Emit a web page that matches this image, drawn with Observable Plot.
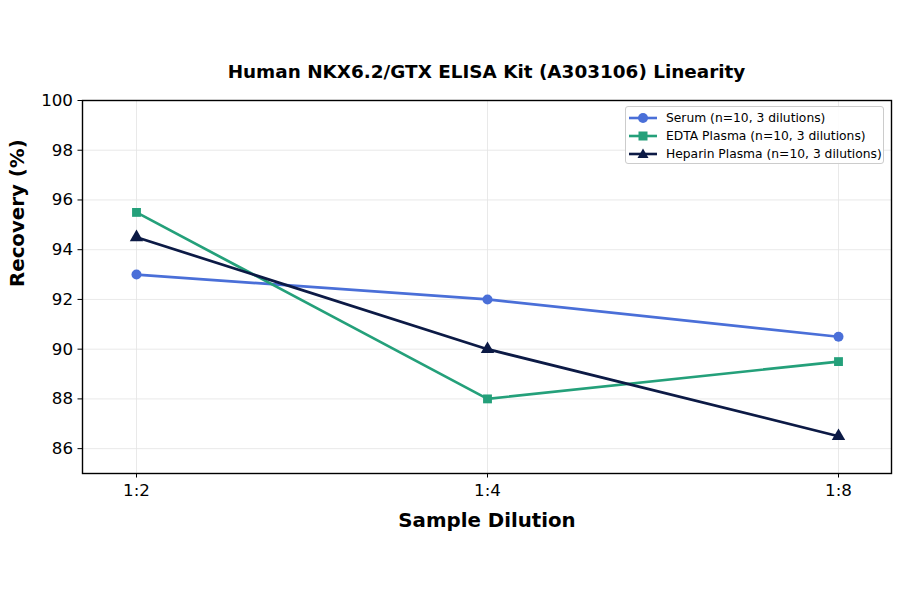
<!DOCTYPE html>
<html><head><meta charset="utf-8">
<script src="https://cdn.jsdelivr.net/npm/d3@7"></script>
<script src="https://cdn.jsdelivr.net/npm/@observablehq/plot@0.6"></script>
<style>
body{margin:0;background:#fff;font-family:"DejaVu Sans",sans-serif;}
#wrap{position:relative;width:900px;height:594px;}
#title{position:absolute;top:61px;left:82px;width:809px;text-align:center;font-weight:bold;font-size:18.4px;color:#000;}
#legend{position:absolute;left:625px;top:106px;width:259px;height:58px;background:rgba(255,255,255,0.9);border:1px solid #ccc;border-radius:3px;box-sizing:border-box;font-size:12.3px;}
.row{position:absolute;left:2px;height:18px;display:flex;align-items:center;white-space:nowrap;}
.row svg{margin-right:8px;}
</style></head>
<body>
<div id="wrap">
<div id="title">Human NKX6.2/GTX ELISA Kit (A303106) Linearity</div>
<div id="chart"></div>
<div id="legend"></div>
</div>
<script>
const dilutions = ["1:2", "1:4", "1:8"];
const seriesNames = ["Serum (n=10, 3 dilutions)", "EDTA Plasma (n=10, 3 dilutions)", "Heparin Plasma (n=10, 3 dilutions)"];
const serum = [93, 92, 90.5];
const edta = [95.5, 88, 89.5];
const heparin = [94.5, 90, 86.5];
const colors = ["#4a6fd8", "#24a07a", "#0c1a45"];
const symbols = ["circle", "square", "triangle"];
const yTicks = [86, 88, 90, 92, 94, 96, 98, 100];

const allValues = [serum, edta, heparin];
const data = [];
allValues.forEach((vals, i) => vals.forEach((v, j) => data.push({series: seriesNames[i], dilution: dilutions[j], value: v})));

const font = "DejaVu Sans, sans-serif";
const chart = Plot.plot({
  width: 900, height: 594,
  marginLeft: 82, marginRight: 9, marginTop: 100, marginBottom: 121,
  style: {fontFamily: font, background: "white", color: "black"},
  x: {type: "point", domain: dilutions, padding: 0.15},
  y: {domain: [85, 100]},
  color: {domain: seriesNames, range: colors},
  symbol: {domain: seriesNames, range: symbols},
  marks: [
    Plot.gridY(yTicks, {stroke: "#e3e3e3", strokeOpacity: 1, strokeWidth: 0.8}),
    Plot.gridX(dilutions, {stroke: "#e3e3e3", strokeOpacity: 1, strokeWidth: 0.8}),
    Plot.axisY(yTicks, {tickSize: 4.5, tickPadding: 5, fontSize: 16.7, label: null, stroke: "black"}),
    Plot.axisX(dilutions, {tickSize: 4.5, tickPadding: 6, fontSize: 16.7, label: null, stroke: "black"}),
    Plot.lineY(data, {x: "dilution", y: "value", z: "series", stroke: "series", strokeWidth: 2.7}),
    Plot.dot(data, {x: "dilution", y: "value", fill: "series", symbol: "series", r: 5, stroke: "none"}),
    Plot.frame({stroke: "black", strokeWidth: 1.4}),
    Plot.text(["Sample Dilution"], {frameAnchor: "bottom", dy: 53, fontSize: 19.8, fontWeight: "bold", fill: "black"}),
    Plot.text(["Recovery (%)"], {frameAnchor: "left", dx: -65, rotate: -90, fontSize: 19.8, fontWeight: "bold", fill: "black"})
  ]
});
document.getElementById("chart").appendChild(chart);

const legend = document.getElementById("legend");
seriesNames.forEach((name, i) => {
  const row = document.createElement("div");
  row.className = "row";
  row.style.top = (1.5 + i * 18) + "px";
  let marker;
  if (symbols[i] === "circle") marker = `<circle cx="15" cy="9" r="5" fill="${colors[i]}"/>`;
  else if (symbols[i] === "square") marker = `<rect x="10.5" y="4.5" width="9" height="9" fill="${colors[i]}"/>`;
  else marker = `<path d="M15,3.5 L20.5,13 L9.5,13 Z" fill="${colors[i]}"/>`;
  row.innerHTML = `<svg width="30" height="18"><line x1="1" x2="29" y1="9" y2="9" stroke="${colors[i]}" stroke-width="2.6"/>${marker}</svg><span>${name}</span>`;
  legend.appendChild(row);
});
</script>
</body></html>
